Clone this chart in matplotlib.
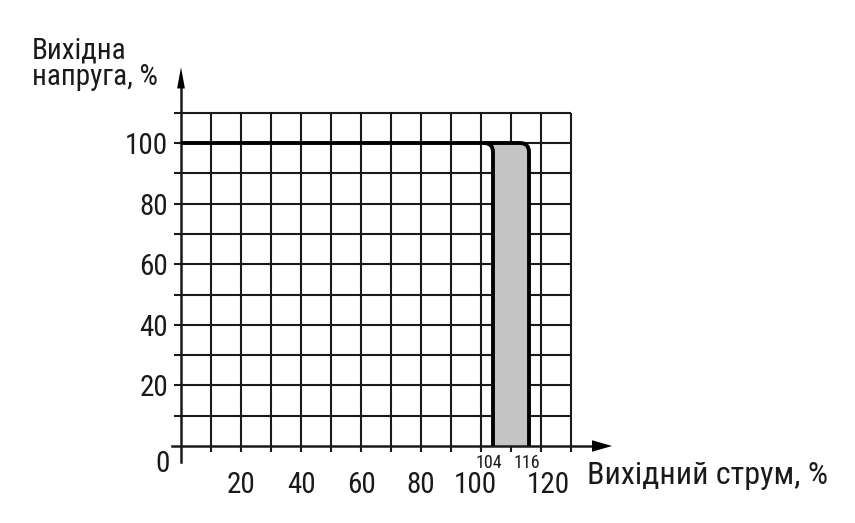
import matplotlib.pyplot as plt
from matplotlib.path import Path
from matplotlib.patches import PathPatch

plt.rcParams["font.family"] = ["Liberation Sans Narrow", "Roboto Condensed",
                               "Liberation Sans", "DejaVu Sans"]

# chart data
x_ticks = [20, 40, 60, 80, 100, 120]
y_ticks = [20, 40, 60, 80, 100]
grid_step = 10
x_max = 130
y_max = 110
nominal_voltage = 100
limit_low = 104
limit_high = 116
corner = 3

y_label = "Вихідна\nнапруга, %"
x_label = "Вихідний струм, %"

INK = "#1a1a1a"

fig = plt.figure(figsize=(8.55, 5.23), dpi=100, facecolor="white")
ax = fig.add_axes((0, 0, 1, 1))
# 3 px per unit horizontally, 3.03 px per unit vertically
ax.set_xlim(-181 / 3, (855 - 181) / 3)
ax.set_ylim(-(523 - 446) / 3.03, 446 / 3.03)
ax.axis("off")

# grid
gx = list(range(grid_step, x_max + 1, grid_step))
gy = list(range(grid_step, y_max + 1, grid_step))
ax.vlines(gx, -2, y_max, color=INK, lw=1.5, zorder=1)
ax.hlines(gy, -2.5, x_max, color=INK, lw=1.5, zorder=1)

# gray band between the two limits
v = nominal_voltage
band = Path(
    [(limit_low, 0), (limit_low, v - corner), (limit_low, v), (limit_low - corner, v),
     (limit_high - corner, v), (limit_high, v), (limit_high, v - corner),
     (limit_high, 0), (limit_low, 0)],
    [Path.MOVETO, Path.LINETO, Path.CURVE3, Path.CURVE3,
     Path.LINETO, Path.CURVE3, Path.CURVE3, Path.LINETO, Path.CLOSEPOLY],
)
ax.add_patch(PathPatch(band, facecolor="#c4c4c4", edgecolor="none", zorder=2))

# curves
outer = Path(
    [(0, v), (limit_high - corner, v), (limit_high, v), (limit_high, v - corner), (limit_high, 0)],
    [Path.MOVETO, Path.LINETO, Path.CURVE3, Path.CURVE3, Path.LINETO],
)
inner = Path(
    [(limit_low - corner, v), (limit_low, v), (limit_low, v - corner), (limit_low, 0)],
    [Path.MOVETO, Path.CURVE3, Path.CURVE3, Path.LINETO],
)
for p in (outer, inner):
    ax.add_patch(PathPatch(p, facecolor="none", edgecolor="black", lw=2.8,
                           capstyle="butt", joinstyle="round", zorder=4))

# axes with arrows
ax.plot([-3, 137], [0, 0], color=INK, lw=1.8, zorder=3)
ax.plot([0, 0], [-5.3, 118], color=INK, lw=1.8, zorder=3)
ax.fill([137, 143.7, 137], [-1.9, 0, 1.9], color="black", lw=0, zorder=5)
ax.fill([-1.3, 0, 1.3], [118, 125, 118], color="black", lw=0, zorder=5)

# tick labels
for t in y_ticks:
    ax.text(-4.3, t, str(t), ha="right", va="center_baseline", fontsize=21, color=INK)
x_nudge = {100: -2, 120: 2.3}
for t in x_ticks:
    ax.text(t + x_nudge.get(t, 0), -15.5, str(t), ha="center", va="baseline",
            fontsize=21, color=INK)
ax.text(-6, -8.6, "0", ha="center", va="baseline", fontsize=21, color=INK)
ax.text(limit_low - 1.3, -7.3, str(limit_low), ha="center", va="baseline", fontsize=13, color=INK)
ax.text(limit_high - 0.7, -7.3, str(limit_high), ha="center", va="baseline", fontsize=13, color=INK)

# axis titles
ax.text(-49.7, 119.1, y_label, ha="left", va="baseline", fontsize=21,
        linespacing=0.95, color=INK)
ax.text(135.3, -12.5, x_label, ha="left", va="baseline", fontsize=23, color=INK)

fig.savefig("out.png", dpi=100, facecolor="white")
